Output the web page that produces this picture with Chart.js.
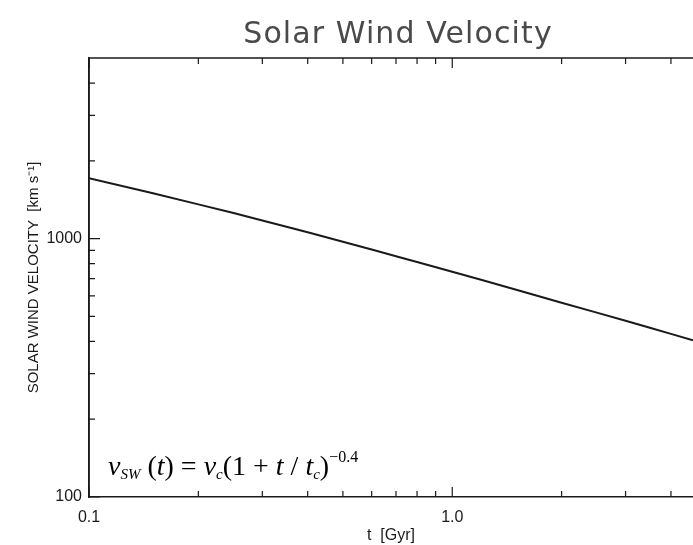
<!DOCTYPE html>
<html>
<head>
<meta charset="utf-8">
<script src="https://cdn.jsdelivr.net/npm/chart.js@4.4.0/dist/chart.umd.min.js"></script>
<style>
  html, body { margin: 0; padding: 0; background: #fff; }
  #wrap { width: 693px; height: 545px; }
</style>
</head>
<body>
<div id="wrap"><canvas id="chart" width="693" height="545"></canvas></div>
<script>
// values (t in Gyr, velocity in km/s)
const tGyr = [0.1, 0.15, 0.2, 0.25, 0.3, 0.4, 0.5, 0.6, 0.7, 0.8, 1.0, 1.2, 1.5, 2, 2.5, 3, 3.5, 4, 4.6]
const vSW = [1712, 1498, 1357, 1256, 1176, 1058, 973, 908, 855, 812, 744, 693, 634, 565, 517, 481, 452, 428, 404]

const xMajor = [0.1, 1.0]
const xMinor = [0.2, 0.3, 0.4, 0.5, 0.6, 0.7, 0.8, 0.9, 2, 3, 4]
const yMajor = [100, 1000]
const yMinor = [200, 300, 400, 500, 600, 700, 800, 900, 2000, 3000, 4000]
const xLabels = ["0.1", "1.0"]
const yLabels = ["100", "1000"]

const ink = "#1a1a1a"

// IDL style box with inward ticks, plus title and formula
const boxPlugin = {
    id: "box",
    afterDraw(chart) {
        const ctx = chart.ctx
        const a = chart.chartArea
        const xs = chart.scales.x
        const ys = chart.scales.y
        ctx.save()
        ctx.strokeStyle = ink
        ctx.lineWidth = 1.5
        ctx.beginPath()
        ctx.moveTo(a.left, a.bottom)
        ctx.lineTo(a.left, a.top)
        ctx.lineTo(a.right + 2, a.top)
        ctx.stroke()

        ctx.lineWidth = 1.2
        ctx.beginPath()
        xMajor.concat(xMinor).forEach(function(v) {
            const px = xs.getPixelForValue(v)
            const len = xMajor.includes(v) ? 10 : 6
            ctx.moveTo(px, a.bottom); ctx.lineTo(px, a.bottom - len)
            ctx.moveTo(px, a.top); ctx.lineTo(px, a.top + len)
        })
        yMajor.concat(yMinor).forEach(function(v) {
            const py = ys.getPixelForValue(v)
            const len = yMajor.includes(v) ? 11 : 6
            ctx.moveTo(a.left, py); ctx.lineTo(a.left + len, py)
        })
        ctx.stroke()

        // title
        ctx.fillStyle = "#4a4a4a"
        ctx.font = "30px 'DejaVu Sans'"
        ctx.letterSpacing = "1.1px"
        ctx.textAlign = "center"
        ctx.textBaseline = "alphabetic"
        ctx.fillText("Solar Wind Velocity", 398, 43)
        ctx.letterSpacing = "0px"

        // formula
        const parts = [
            ["v", "italic", 28, 0], ["SW", "italic", 15, 4], [" (", "", 28, 0],
            ["t", "italic", 28, 0], [")", "", 28, 0], [" = ", "", 28, 0],
            ["v", "italic", 28, 0], ["c", "italic", 15, 4], ["(1 + ", "", 28, 0],
            ["t", "italic", 28, 0], [" / ", "", 28, 0], ["t", "italic", 28, 0],
            ["c", "italic", 15, 4], [")", "", 28, 0], ["\u22120.4", "", 16, -13]
        ]
        let x = a.left + 19
        const base = a.bottom - 22
        ctx.fillStyle = "#000"
        ctx.textAlign = "left"
        parts.forEach(function(p) {
            ctx.font = (p[1] ? p[1] + " " : "") + p[2] + "px 'Liberation Serif'"
            ctx.fillText(p[0], x, base + p[3])
            x += ctx.measureText(p[0]).width
        })
        ctx.restore()
    }
}

new Chart("chart", {
    type: "line",
    data: {
        datasets: [{
            data: tGyr.map(function(t, i) { return { x: t, y: vSW[i] } }),
            borderColor: ink,
            borderWidth: 2,
            pointRadius: 0,
            tension: 0,
            fill: false
        }]
    },
    options: {
        responsive: false,
        animation: false,
        layout: { padding: { top: 58, right: 0, left: 0, bottom: 0 } },
        plugins: { legend: { display: false }, title: { display: false }, tooltip: { enabled: false } },
        scales: {
            x: {
                type: "logarithmic",
                min: 0.1,
                max: 4.6,
                afterFit: function(s) { s.height = 48 },
                afterBuildTicks: function(s) { s.ticks = xMajor.map(function(v) { return { value: v } }) },
                ticks: {
                    autoSkip: false,
                    maxRotation: 0,
                    padding: 11,
                    color: ink,
                    font: { family: "'Liberation Sans'", size: 16 },
                    callback: function(v) { return xLabels[xMajor.indexOf(v)] }
                },
                grid: { display: false, drawTicks: false },
                border: { display: true, color: ink, width: 1.5 },
                title: {
                    display: true,
                    text: "t  [Gyr]",
                    color: ink,
                    font: { family: "'Liberation Sans'", size: 16 },
                    padding: { top: 0, bottom: 0 }
                }
            },
            y: {
                type: "logarithmic",
                min: 100,
                max: 5000,
                afterFit: function(s) { s.width = 89 },
                afterBuildTicks: function(s) { s.ticks = yMajor.map(function(v) { return { value: v } }) },
                ticks: {
                    autoSkip: false,
                    padding: 7,
                    color: ink,
                    font: { family: "'Liberation Sans'", size: 16 },
                    callback: function(v) { return yLabels[yMajor.indexOf(v)] }
                },
                grid: { display: false, drawTicks: false },
                border: { display: true, color: ink, width: 1.5 },
                title: {
                    display: true,
                    text: "SOLAR WIND VELOCITY  [km s\u207B\u00B9]",
                    color: ink,
                    font: { family: "'Liberation Sans'", size: 15 },
                    padding: { top: 25, bottom: 0 }
                }
            }
        }
    },
    plugins: [boxPlugin]
})
</script>
</body>
</html>
